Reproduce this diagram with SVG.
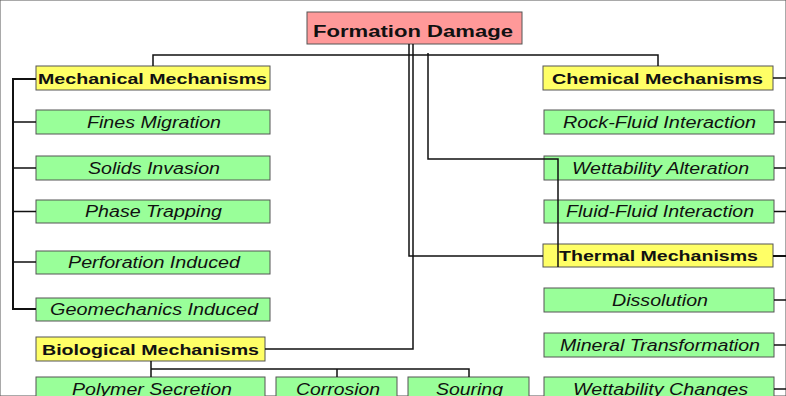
<svg xmlns="http://www.w3.org/2000/svg" width="786" height="396" viewBox="0 0 786 396">
<style>
rect{stroke:#555;stroke-width:1}
.root{fill:#ff9999}
.cat{fill:#ffff66}
.leaf{fill:#99ff99}
text{font-family:"Liberation Sans",Arial,sans-serif;fill:#111}
.tr{font-size:16px;font-weight:bold}
.tc{font-size:15px;font-weight:bold}
.tl{font-size:16px;font-style:italic}
#connectors path{fill:none;stroke:#111;stroke-width:1.5}
</style>
<rect x="0" y="0" width="786" height="396" fill="#fff" stroke="none"/>
<g id="n-root"><rect class="root" x="307" y="12" width="215" height="32"/><text class="tr" x="313" y="37" textLength="200" lengthAdjust="spacingAndGlyphs">Formation Damage</text></g>
<g id="n-mech"><rect class="cat" x="36" y="66" width="234" height="24"/><text class="tc" x="38" y="84" textLength="229" lengthAdjust="spacingAndGlyphs">Mechanical Mechanisms</text></g>
<g id="n-fines"><rect class="leaf" x="36" y="110" width="234" height="24"/><text class="tl" x="87" y="128" textLength="134" lengthAdjust="spacingAndGlyphs">Fines Migration</text></g>
<g id="n-solids"><rect class="leaf" x="36" y="156" width="234" height="24"/><text class="tl" x="88" y="174" textLength="132" lengthAdjust="spacingAndGlyphs">Solids Invasion</text></g>
<g id="n-phase"><rect class="leaf" x="36" y="200" width="234" height="23"/><text class="tl" x="85" y="217" textLength="137" lengthAdjust="spacingAndGlyphs">Phase Trapping</text></g>
<g id="n-perf"><rect class="leaf" x="36" y="251" width="234" height="23"/><text class="tl" x="68" y="268" textLength="172" lengthAdjust="spacingAndGlyphs">Perforation Induced</text></g>
<g id="n-geo"><rect class="leaf" x="36" y="298" width="234" height="23"/><text class="tl" x="50" y="315" textLength="208" lengthAdjust="spacingAndGlyphs">Geomechanics Induced</text></g>
<g id="n-bio"><rect class="cat" x="36" y="337" width="229" height="24"/><text class="tc" x="42" y="355" textLength="217" lengthAdjust="spacingAndGlyphs">Biological Mechanisms</text></g>
<g id="n-poly"><rect class="leaf" x="36" y="377" width="229" height="24"/><text class="tl" x="72" y="395" textLength="160" lengthAdjust="spacingAndGlyphs">Polymer Secretion</text></g>
<g id="n-corr"><rect class="leaf" x="276" y="377" width="121" height="24"/><text class="tl" x="296" y="395" textLength="84" lengthAdjust="spacingAndGlyphs">Corrosion</text></g>
<g id="n-sour"><rect class="leaf" x="408" y="377" width="121" height="24"/><text class="tl" x="436" y="395" textLength="67" lengthAdjust="spacingAndGlyphs">Souring</text></g>
<g id="n-chem"><rect class="cat" x="543" y="66" width="230" height="24"/><text class="tc" x="552" y="84" textLength="211" lengthAdjust="spacingAndGlyphs">Chemical Mechanisms</text></g>
<g id="n-rock"><rect class="leaf" x="544" y="110" width="230" height="24"/><text class="tl" x="563" y="128" textLength="193" lengthAdjust="spacingAndGlyphs">Rock-Fluid Interaction</text></g>
<g id="n-wett"><rect class="leaf" x="544" y="156" width="230" height="24"/><text class="tl" x="572" y="174" textLength="177" lengthAdjust="spacingAndGlyphs">Wettability Alteration</text></g>
<g id="n-fluid"><rect class="leaf" x="544" y="200" width="230" height="23"/><text class="tl" x="566" y="217" textLength="188" lengthAdjust="spacingAndGlyphs">Fluid-Fluid Interaction</text></g>
<g id="n-therm"><rect class="cat" x="543" y="244" width="230" height="23"/><text class="tc" x="559" y="261" textLength="199" lengthAdjust="spacingAndGlyphs">Thermal Mechanisms</text></g>
<g id="n-diss"><rect class="leaf" x="544" y="288" width="230" height="24"/><text class="tl" x="612" y="306" textLength="96" lengthAdjust="spacingAndGlyphs">Dissolution</text></g>
<g id="n-min"><rect class="leaf" x="544" y="333" width="230" height="24"/><text class="tl" x="560" y="351" textLength="200" lengthAdjust="spacingAndGlyphs">Mineral Transformation</text></g>
<g id="n-wchg"><rect class="leaf" x="544" y="377" width="230" height="24"/><text class="tl" x="573" y="395" textLength="175" lengthAdjust="spacingAndGlyphs">Wettability Changes</text></g>
<g id="connectors">
<path d="M153,66 V55 H658 V66"/>
<path d="M36,79 H13 V309 H36" style="stroke-width:2"/>
<path d="M13,122 H36 M13,168 H36 M13,211.5 H36 M13,262 H36"/>
<path d="M409,44 V256 H543"/>
<path d="M413,44 V349 H265"/>
<path d="M428,53 V159 H558 V267"/>
<path d="M151,361 V377 M151,369 H469 V377 M337,369 V377"/>
<path d="M773,78 H786 M774,122 H786 M774,168 H786 M774,211.5 H786 M774,300 H786 M774,345 H786 M774,389 H786"/>
<path d="M773,256 H786" style="stroke-width:2"/>
</g>
</svg>
